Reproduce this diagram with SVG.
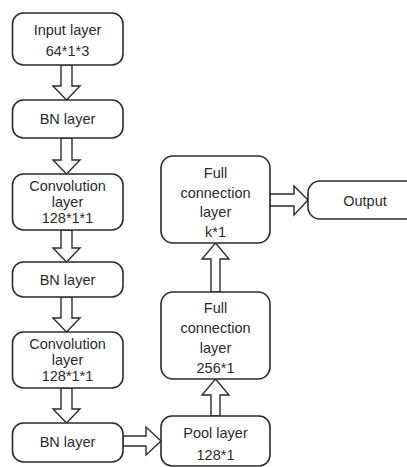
<svg xmlns="http://www.w3.org/2000/svg" width="407" height="467" viewBox="0 0 407 467">
<style>
.box{fill:#fff;stroke:#2b2b2b;stroke-width:1.6}
.arr{fill:#fff;stroke:#2b2b2b;stroke-width:1.4;stroke-linejoin:miter}
text{font-family:"Liberation Sans",Arial,sans-serif;font-size:14.5px;fill:#2b2b2b;text-anchor:middle}
</style>
<rect width="407" height="467" fill="#fff"/>
<g id="connectors">
<polygon class="arr" points="61,65 72,65 72,86 80,86 66.5,100 53,86 61,86"/>
<polygon class="arr" points="61,138 72,138 72,160 80,160 66.5,174 53,160 61,160"/>
<polygon class="arr" points="61,230 72,230 72,248 80,248 66.5,262 53,248 61,248"/>
<polygon class="arr" points="61,297 72,297 72,318 80,318 66.5,332 53,318 61,318"/>
<polygon class="arr" points="61,388 72,388 72,409 80,409 66.5,423 53,409 61,409"/>
<polygon class="arr" points="123,436 146,436 146,427 161,441 146,455 146,446 123,446"/>
<polygon class="arr" points="211,416 211,395 202,395 215.5,379 229,395 220,395 220,416"/>
<polygon class="arr" points="211,292 211,259 202,259 215.5,243 229,259 220,259 220,292"/>
<polygon class="arr" points="270,194 294,194 294,186 308,200 294,215 294,206 270,206"/>
</g>
<g id="input">
<rect class="box" x="12.5" y="13" width="110.5" height="52" rx="11"/>
<text x="67.5" y="35">Input layer</text>
<text x="67.5" y="56">64*1*3</text>
</g>
<g id="bn1">
<rect class="box" x="12.5" y="100" width="110.5" height="38" rx="11"/>
<text x="67.5" y="124">BN layer</text>
</g>
<g id="conv1">
<rect class="box" x="12.5" y="174" width="110.5" height="56" rx="11"/>
<text x="67.5" y="191">Convolution</text>
<text x="67.5" y="207">layer</text>
<text x="67.5" y="223">128*1*1</text>
</g>
<g id="bn2">
<rect class="box" x="12.5" y="262" width="110.5" height="35" rx="11"/>
<text x="67.5" y="285">BN layer</text>
</g>
<g id="conv2">
<rect class="box" x="12.5" y="332" width="110.5" height="56" rx="11"/>
<text x="67.5" y="349">Convolution</text>
<text x="67.5" y="365">layer</text>
<text x="67.5" y="381">128*1*1</text>
</g>
<g id="bn3">
<rect class="box" x="12.5" y="423" width="110.5" height="39" rx="11"/>
<text x="67.5" y="447">BN layer</text>
</g>
<g id="pool">
<rect class="box" x="161" y="416" width="109" height="50" rx="11"/>
<text x="215.5" y="438">Pool layer</text>
<text x="215.5" y="460">128*1</text>
</g>
<g id="fc256">
<rect class="box" x="161" y="292" width="109" height="87" rx="12"/>
<text x="215.5" y="313">Full</text>
<text x="215.5" y="333">connection</text>
<text x="215.5" y="353">layer</text>
<text x="215.5" y="373">256*1</text>
</g>
<g id="fck">
<rect class="box" x="161" y="156" width="109" height="87" rx="12"/>
<text x="215.5" y="178">Full</text>
<text x="215.5" y="198">connection</text>
<text x="215.5" y="217">layer</text>
<text x="215.5" y="237">k*1</text>
</g>
<g id="output">
<rect class="box" x="308" y="181" width="120" height="38" rx="12"/>
<text x="365" y="206">Output</text>
</g>
</svg>
